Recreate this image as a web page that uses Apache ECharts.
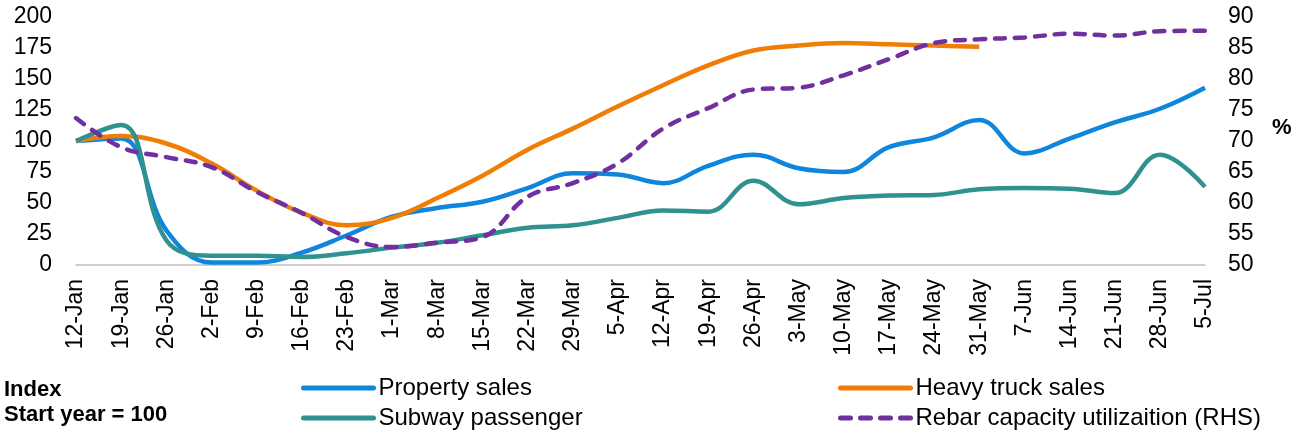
<!DOCTYPE html>
<html>
<head>
<meta charset="utf-8">
<script src="https://cdn.jsdelivr.net/npm/echarts@6/dist/echarts.min.js"></script>
<style>
  html, body { margin: 0; padding: 0; background: #fff; }
  #chart { width: 1294px; height: 435px; }
</style>
</head>
<body>
<div id="chart"></div>
<script>
const weeks = ['12-Jan', '19-Jan', '26-Jan', '2-Feb', '9-Feb', '16-Feb', '23-Feb', '1-Mar', '8-Mar',
  '15-Mar', '22-Mar', '29-Mar', '5-Apr', '12-Apr', '19-Apr', '26-Apr', '3-May', '10-May', '17-May',
  '24-May', '31-May', '7-Jun', '14-Jun', '21-Jun', '28-Jun', '5-Jul'];

const propertySales = [100, 102, 28, 2, 2, 10, 24, 39, 46, 51, 62, 74, 73, 66, 80, 89, 78, 75, 95,
  103, 117, 90, 102, 115, 126, 143];
const heavyTruck = [100, 104, 98, 82, 60, 42, 32, 38, 54, 72, 93, 110, 128, 145, 161, 173, 177, 179,
  178, 177, 176];
const subway = [100, 113, 20, 7.5, 7.5, 6.5, 9.5, 14, 18, 24, 30, 32, 38, 44, 43, 68, 49, 54, 56,
  56.5, 61, 62, 61.5, 58, 89, 63];
const rebarUtil = [73.7, 69, 67.4, 65.8, 61.8, 58.4, 54.5, 52.9, 53.6, 54.5, 61, 63.2, 66.4, 72,
  75.3, 78.3, 78.6, 80.6, 83.2, 85.8, 86.4, 86.7, 87.3, 87, 87.7, 87.8];

const leftTicks = [0, 200, 25];
const rightTicks = [50, 90, 5];

const font = 'Arial, "Liberation Sans", sans-serif';
const chart = echarts.init(document.getElementById('chart'));

function lineSeries(name, data, color, extra) {
  return Object.assign({
    name: name,
    type: 'line',
    data: data,
    smooth: 0.4,
    symbol: 'none',
    lineStyle: { width: 4.5, color: color },
    itemStyle: { color: color }
  }, extra || {});
}

// two stacked columns of legend entries, like the original
const legendBase = {
  orient: 'vertical',
  top: 376,
  padding: 0,
  itemWidth: 70, itemHeight: 4, itemGap: 6,
  itemStyle: { opacity: 0 },
  lineStyle: { width: 5, cap: 'round' },
  textStyle: { fontSize: 24, fontFamily: font, color: '#000', padding: [0, 0, 0, 0] }
};

const options = {
  animation: false,
  grid: { left: 76, right: 89, top: 17, bottom: 170 },
  xAxis: {
    type: 'category',
    data: weeks,
    boundaryGap: false,
    axisLine: { lineStyle: { color: '#bfbfbf', width: 1.5 } },
    axisTick: { show: false },
    axisLabel: { rotate: 90, color: '#000', fontSize: 23, fontFamily: font, margin: 14, interval: 0 }
  },
  yAxis: [
    {
      type: 'value',
      min: leftTicks[0], max: leftTicks[1], interval: leftTicks[2],
      splitLine: { show: false },
      axisLabel: { color: '#000', fontSize: 23, fontFamily: font, margin: 24 }
    },
    {
      type: 'value',
      position: 'right',
      min: rightTicks[0], max: rightTicks[1], interval: rightTicks[2],
      splitLine: { show: false },
      axisLabel: { color: '#000', fontSize: 23, fontFamily: font, margin: 23 }
    }
  ],
  legend: [
    Object.assign({}, legendBase, { left: 301, data: ['Property sales', 'Subway passenger'] }),
    Object.assign({}, legendBase, { left: 838, data: ['Heavy truck sales', 'Rebar capacity utilizaition (RHS)'] })
  ],
  graphic: [
    {
      type: 'text', left: 4, top: 379,
      style: { text: 'Index', font: 'bold 22px ' + font, fill: '#000' }
    },
    {
      type: 'text', left: 4, top: 404,
      style: { text: 'Start year = 100', font: 'bold 22px ' + font, fill: '#000' }
    },
    {
      type: 'text', left: 1272, top: 117,
      style: { text: '%', font: 'bold 22px ' + font, fill: '#000' }
    }
  ],
  series: [
    lineSeries('Property sales', propertySales, '#0D86DB'),
    lineSeries('Heavy truck sales', heavyTruck, '#F07D05'),
    lineSeries('Subway passenger', subway, '#2F9290'),
    lineSeries('Rebar capacity utilizaition (RHS)', rebarUtil, '#7030A0', {
      yAxisIndex: 1,
      lineStyle: { width: 4.5, color: '#7030A0', type: [10, 10], cap: 'round' }
    })
  ]
};

chart.setOption(options);
</script>
</body>
</html>
